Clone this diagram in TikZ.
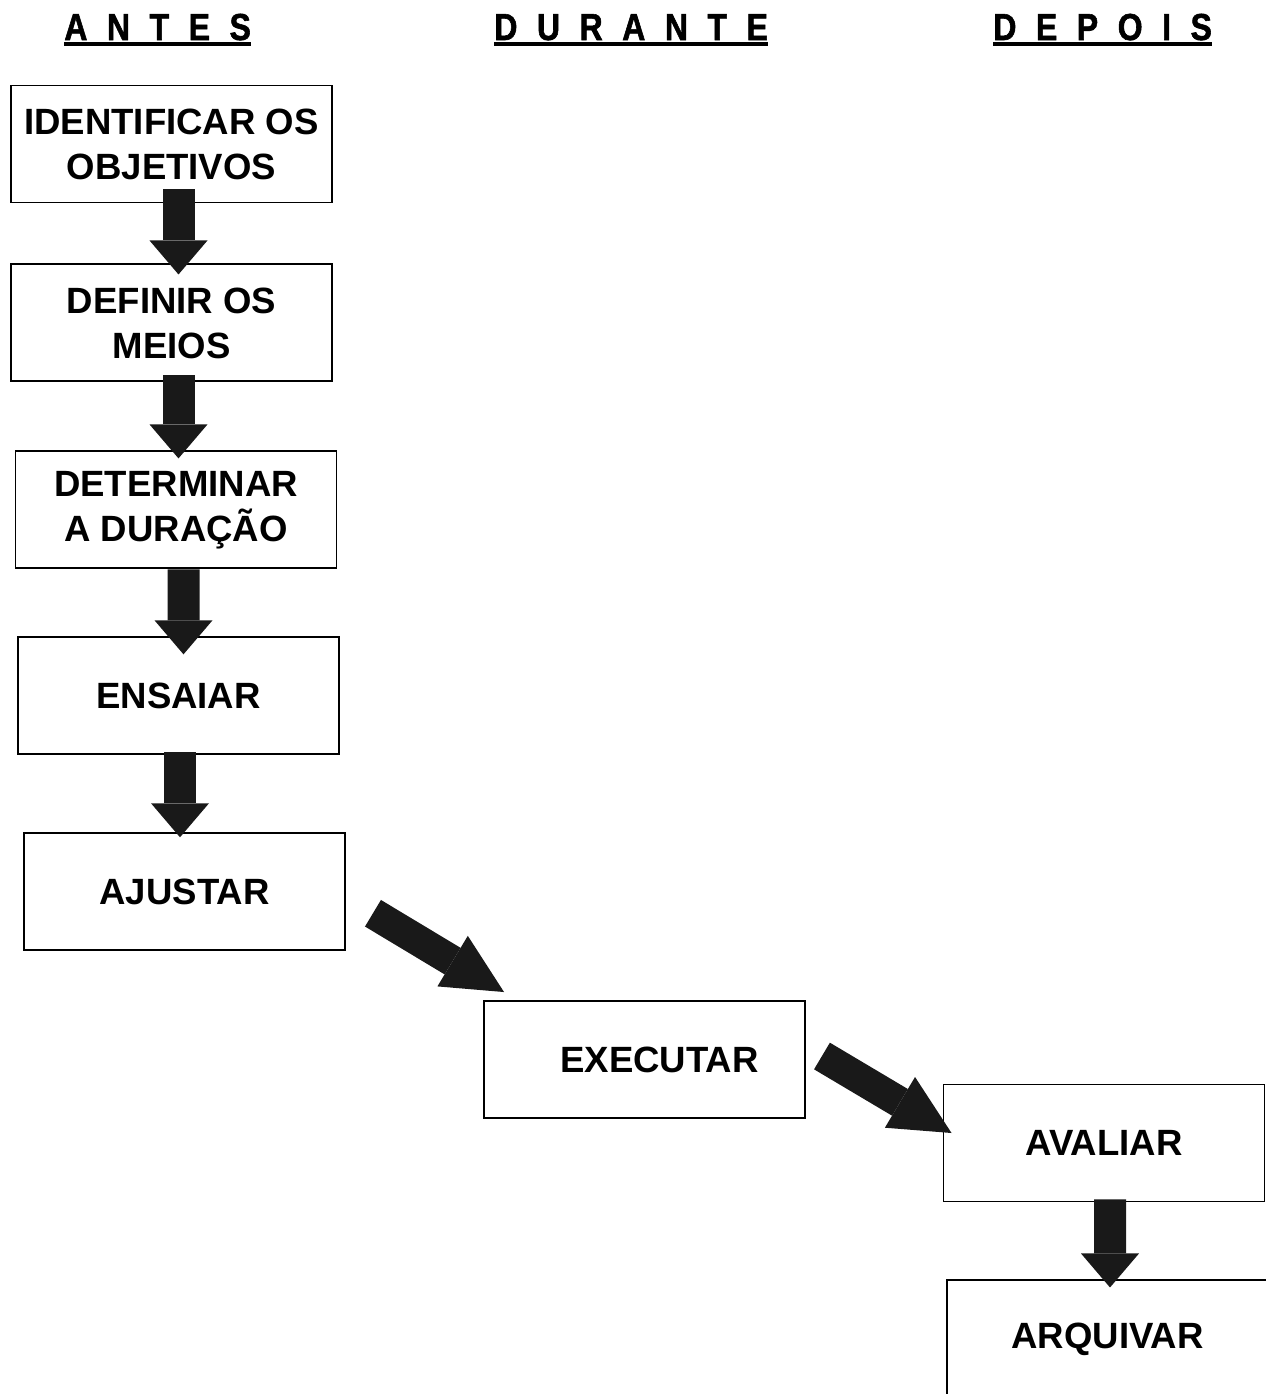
\documentclass[tikz,border=0pt]{standalone}
\usepackage{fontspec}
\setmainfont{Liberation Sans}
\newfontfamily\headfont{Liberation Sans Bold}[FakeStretch=0.85,LetterSpace=52,FakeBold=1.5]
\usetikzlibrary{positioning,calc,arrows.meta}

\tikzset{
  etapa/.style={draw, line width=1.1pt, minimum width=6.42cm, minimum height=2.34cm,
    align=center, inner sep=0pt, font=\fontsize{20.8}{25.6}\selectfont\bfseries},
  fase/.style={anchor=base west, inner sep=0pt,
    font=\headfont\fontsize{21.4}{24}\selectfont},
  vflow/.style={line width=0.64cm, draw=black!90,
    -{Triangle[length=0.68cm 0 0, width=1.16cm 0 0, line width=0pt]}},
  dflow/.style={line width=0.62cm, draw=black!90,
    -{Triangle[length=1.2cm 0 0, width=1.18cm 0 0, line width=0pt]}}
}

\begin{document}
\begin{tikzpicture}
  \useasboundingbox (0,0) rectangle (25.32,-27.88);
  % fases
  \node (antes) [fase] at (1.28,-0.80) {ANTES};
  \node (durante) [fase] at (9.88,-0.80) {DURANTE};
  \node (depois) [fase] at (19.86,-0.80) {DEPOIS};
  \foreach \h in {antes,durante,depois}
    \draw[line width=0.09cm] ($(\h.base west)+(0,-0.08)$) -- ($(\h.base east)+(0,-0.08)$);

  % etapas
  \node (obj) [etapa] at (3.43,-2.88) {IDENTIFICAR OS\\OBJETIVOS};
  \node (meios) [etapa, below=1.2cm of obj] {DEFINIR OS\\MEIOS};
  \node (dur) [etapa, below=1.36cm of meios, xshift=0.09cm] {DETERMINAR\\A DURAÇÃO};
  \node (ensaio) [etapa, below=1.34cm of dur, xshift=0.05cm] {ENSAIAR};
  \node (ajuste) [etapa, below=1.54cm of ensaio, xshift=0.12cm] {AJUSTAR};
  \node (exec) [etapa] at (12.89,-21.19) {\hspace*{0.6cm}EXECUTAR};
  \node (aval) [etapa] at (22.08,-22.86) {AVALIAR};
  \node (arq) [etapa, below=1.54cm of aval, xshift=0.07cm] {ARQUIVAR};

  % setas
  \draw[vflow] ($(obj.south)+(0.14,0.28)$) -- ($(meios.north)+(0.14,-0.22)$);
  \draw[vflow] ($(meios.south)+(0.14,0.14)$) -- ($(dur.north)+(0.05,-0.16)$);
  \draw[vflow] ($(dur.south)+(0.15,0)$) -- ($(ensaio.north)+(0.10,-0.36)$);
  \draw[vflow] ($(ensaio.south)+(0.03,0.06)$) -- ($(ajuste.north)+(-0.09,-0.10)$);
  \draw[dflow] ($(ajuste.east)+(0.54,-0.43)$) -- ($(exec.north west)+(0.42,0.16)$);
  \draw[dflow] ($(exec.east)+(0.32,0.07)$) -- ($(aval.west)+(0.18,0.2)$);
  \draw[vflow] ($(aval.south)+(0.12,0.06)$) -- ($(arq.north)+(0.05,-0.16)$);
\end{tikzpicture}
\end{document}
